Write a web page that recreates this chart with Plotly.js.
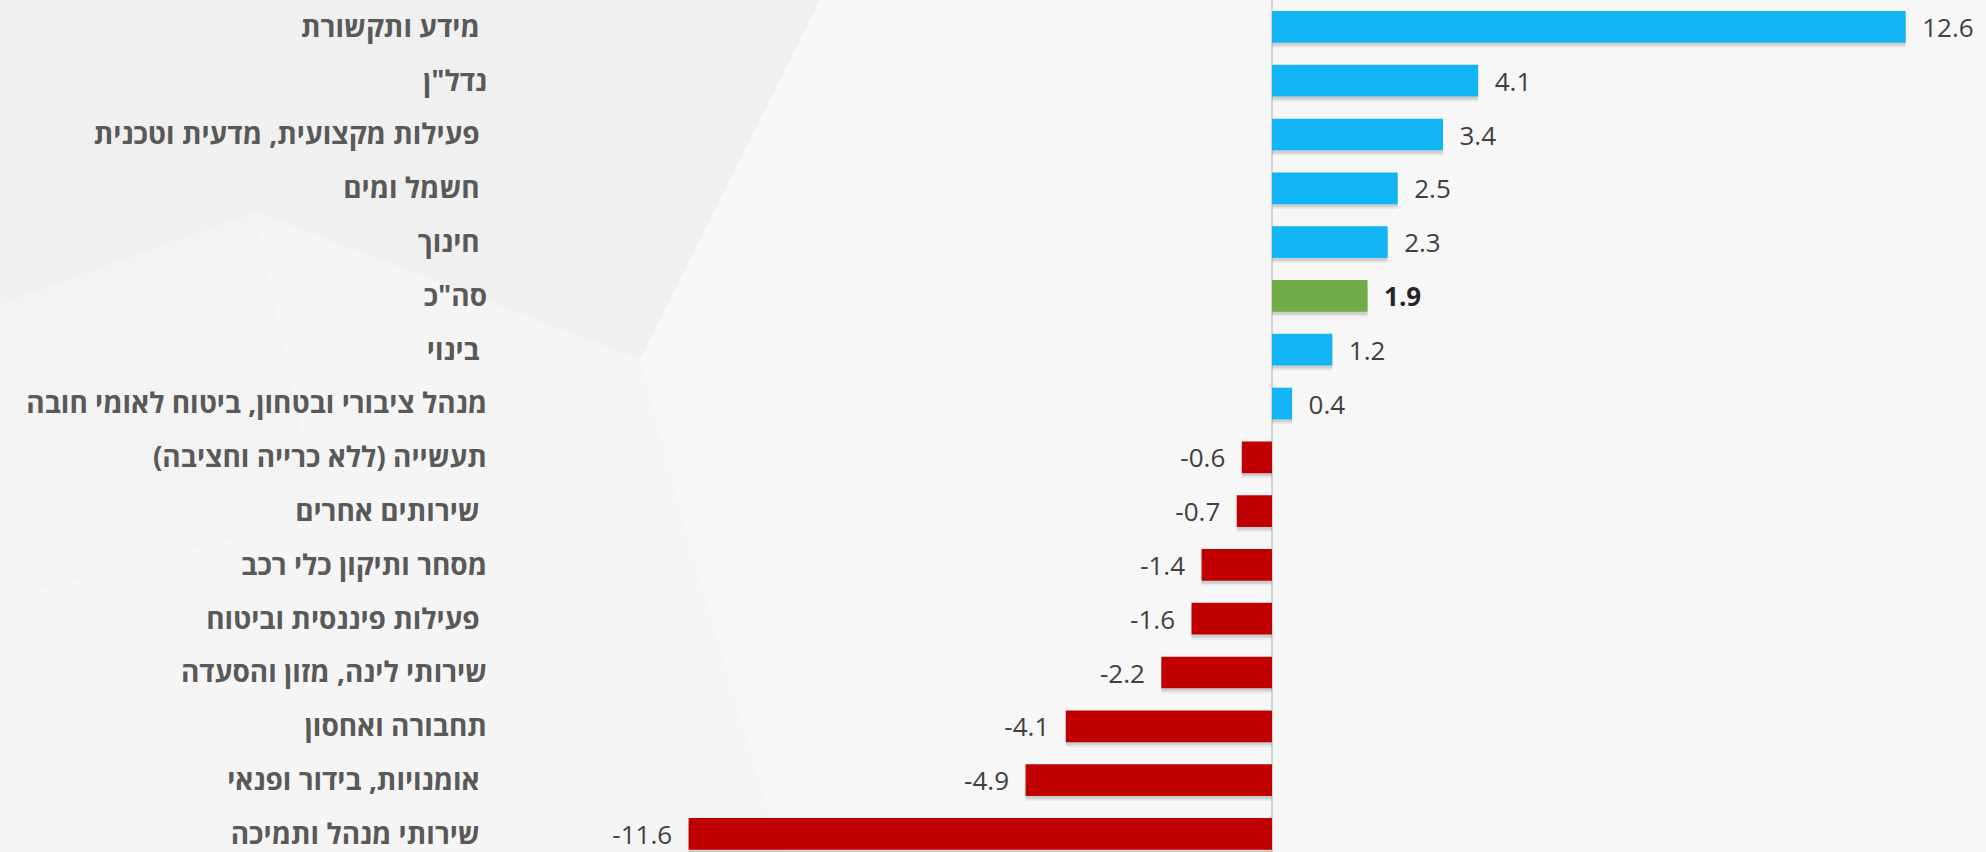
<!DOCTYPE html>
<html>
<head>
<meta charset="utf-8">
<script src="https://cdn.plot.ly/plotly-3.0.1.min.js"></script>
<style>
  html, body { margin: 0; padding: 0; background: #f6f6f6; }
  #chart { width: 1986px; height: 852px; }
</style>
</head>
<body>
<div id="chart"></div>
<script>
// Categories, top to bottom (trailing \u00a0 reproduces the original's trailing space)
const categories = [
  'מידע ותקשורת\u00a0',
  'נדל"ן',
  'פעילות מקצועית, מדעית וטכנית\u00a0',
  'חשמל ומים\u00a0',
  'חינוך\u00a0',
  'סה"כ',
  'בינוי\u00a0',
  'מנהל ציבורי ובטחון, ביטוח לאומי חובה',
  'תעשייה (ללא כרייה וחציבה)\u200f',
  'שירותים אחרים\u00a0',
  'מסחר ותיקון כלי רכב',
  'פעילות פיננסית וביטוח\u00a0',
  'שירותי לינה, מזון והסעדה',
  'תחבורה ואחסון',
  'אומנויות, בידור ופנאי\u00a0',
  'שירותי מנהל ותמיכה\u00a0'
];
const values = [12.6, 4.1, 3.4, 2.5, 2.3, 1.9, 1.2, 0.4, -0.6, -0.7, -1.4, -1.6, -2.2, -4.1, -4.9, -11.6];
const totalCategory = 'סה"כ';

const posColor = '#12b5f4';
const negColor = '#c00000';
const totalColor = '#70ad47';

const isTotal = categories.map(c => c === totalCategory);
const barColors = values.map((v, i) => isTotal[i] ? totalColor : (v >= 0 ? posColor : negColor));
const labelText = values.map((v, i) => {
  const s = v.toFixed(1);
  const t = isTotal[i] ? '<b>' + s + '</b>' : s;
  return v >= 0 ? '\u00a0\u00a0' + t : t + '\u00a0\u00a0';
});
const labelColors = values.map((v, i) => isTotal[i] ? '#262626' : '#404040');

const BW = 0.589;
function shadowTrace(dy, alpha) {
  return {
    type: 'bar', orientation: 'h',
    x: values, y: categories,
    width: BW, offset: -BW / 2 + dy,
    marker: { color: 'rgba(60,60,60,' + alpha + ')', line: { width: 0 } },
    hoverinfo: 'skip', showlegend: false
  };
}

const bars = {
  type: 'bar', orientation: 'h',
  x: values, y: categories,
  width: BW, offset: -BW / 2,
  marker: { color: barColors, line: { width: 0 } },
  text: labelText,
  textposition: 'outside',
  constraintext: 'none',
  cliponaxis: false,
  textfont: { family: 'Open Sans, sans-serif', size: 26, color: labelColors },
  hoverinfo: 'x+y', showlegend: false
};

const bg = [
  { path: 'M0,0 L820,0 L640,360 L255,212 L0,304 Z', fill: '#f0f0f0' },
  { path: 'M0,304 L255,212 L320,516 L0,600 Z', fill: '#f3f3f3' },
  { path: 'M255,212 L640,360 L690,545 L320,516 Z', fill: '#f5f5f5' },
  { path: 'M0,600 L320,516 L690,545 L780,852 L0,852 Z', fill: '#f5f5f5' },
  { path: 'M820,0 L1986,0 L1986,852 L780,852 L690,545 L640,360 Z', fill: '#f7f7f7' }
];

const layout = {
  width: 1986, height: 852,
  margin: { l: 500, r: 20, t: 0, b: 0, pad: 0 },
  paper_bgcolor: '#f6f6f6',
  plot_bgcolor: 'rgba(0,0,0,0)',
  barmode: 'overlay',
  font: { family: 'Open Sans, sans-serif', color: '#404040' },
  xaxis: {
    range: [-15.35, 13.80],
    showticklabels: false, showgrid: false, ticks: '',
    zeroline: true, zerolinecolor: '#d4d4d4', zerolinewidth: 2,
    showline: false, fixedrange: true
  },
  yaxis: {
    type: 'category',
    categoryorder: 'array', categoryarray: categories,
    range: [15.336, -0.5],
    showgrid: false, zeroline: false, ticks: '',
    ticklabelstandoff: 12,
    tickfont: { family: 'Open Sans, sans-serif', size: 28, color: '#595959', weight: 'bold' },
    fixedrange: true
  },
  shapes: bg.map(s => ({
    type: 'path', xref: 'paper', yref: 'paper', layer: 'below',
    path: s.path.replace(/(\d+),(\d+)/g, (m, x, y) => ((+x - 500) / 1466).toFixed(4) + ',' + (1 - (+y) / 852).toFixed(4)),
    fillcolor: s.fill, line: { width: 0 }
  }))
};

Plotly.newPlot('chart', [shadowTrace(0.09, 0.08), shadowTrace(0.055, 0.14), bars], layout, { displayModeBar: false, staticPlot: true });
</script>
</body>
</html>
